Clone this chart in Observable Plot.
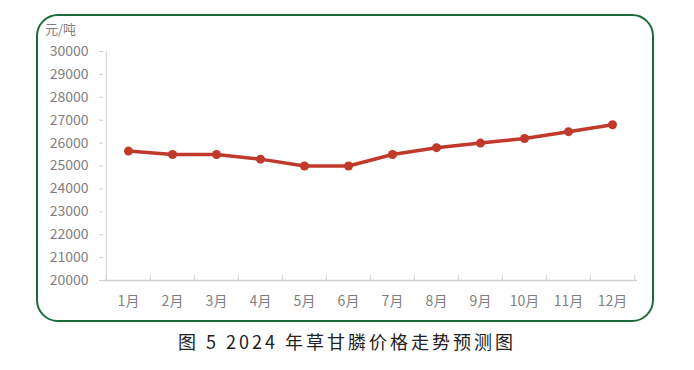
<!DOCTYPE html>
<html>
<head>
<meta charset="utf-8">
<script src="https://cdn.jsdelivr.net/npm/d3@7"></script>
<script src="https://cdn.jsdelivr.net/npm/@observablehq/plot@0.6"></script>
<style>
  html, body { margin: 0; padding: 0; background: #fff; }
  #wrap { position: relative; width: 694px; height: 370px; overflow: hidden; font-family: "Noto Sans CJK SC", "Noto Sans", sans-serif; }
  #box { position: absolute; left: 36px; top: 14px; width: 614px; height: 304px; border: 2.5px solid #1d6b3c; border-radius: 22px; }
  #unit { position: absolute; left: 45px; top: 22px; font-size: 13px; line-height: 14px; color: #7f7f7f; }
  #chart { position: absolute; left: 0; top: 0; }
  #caption { position: absolute; left: 0; width: 694px; top: 330px; text-align: center; font-size: 18px; line-height: 22px; letter-spacing: 3px; color: #222; font-weight: 400; }
</style>
</head>
<body>
<div id="wrap">
  <div id="box"></div>
  <div id="unit">元/吨</div>
  <div id="chart"></div>
  <div id="caption">图 5 2024 年草甘膦价格走势预测图</div>
</div>
<script>
const months = ["1月","2月","3月","4月","5月","6月","7月","8月","9月","10月","11月","12月"];
const prices = [25650, 25500, 25500, 25300, 25000, 25000, 25500, 25800, 26000, 26200, 26500, 26800];
const yTicks = [20000, 21000, 22000, 23000, 24000, 25000, 26000, 27000, 28000, 29000, 30000];

const data = months.map((m, i) => ({month: m, price: prices[i]}));

const W = 694, H = 330, mL = 103, mR = 57, mT = 51, mB = 50;
const half = (W - mL - mR) / months.length / 2;
const innerH = H - mT - mB;
const axisColor = "#d0d0d0";
const textColor = "#7f7f7f";

const chart = Plot.plot({
  width: W,
  height: H,
  marginLeft: mL,
  marginRight: mR,
  marginTop: mT,
  marginBottom: mB,
  style: {fontFamily: '"Noto Sans CJK SC", "Noto Sans", sans-serif', background: "transparent"},
  x: {type: "band", domain: months, padding: 0, label: null},
  y: {domain: [20000, 30000], label: null},
  marks: [
    Plot.ruleX([months[0]], {x: d => d, dx: -half, stroke: axisColor, strokeWidth: 1}),
    Plot.ruleY([20000], {stroke: axisColor, strokeWidth: 1.5}),
    Plot.ruleX(months, {x: d => d, dx: -half, insetTop: innerH - 5, stroke: axisColor}),
    Plot.ruleX([months[months.length - 1]], {x: d => d, dx: half, insetTop: innerH - 5, stroke: axisColor}),
    Plot.axisY({ticks: yTicks, tickSize: 4, tickPadding: 11, tickFormat: d3.format("d"), fontSize: 14, color: textColor, stroke: axisColor, label: null}),
    Plot.axisX({tickSize: 0, tickPadding: 16, fontSize: 14, color: textColor, label: null}),
    Plot.line(data, {x: "month", y: "price", stroke: "#c0392b", strokeWidth: 3.5}),
    Plot.dot(data, {x: "month", y: "price", r: 4.5, fill: "#c0392b"})
  ]
});
document.getElementById("chart").appendChild(chart);
</script>
</body>
</html>
